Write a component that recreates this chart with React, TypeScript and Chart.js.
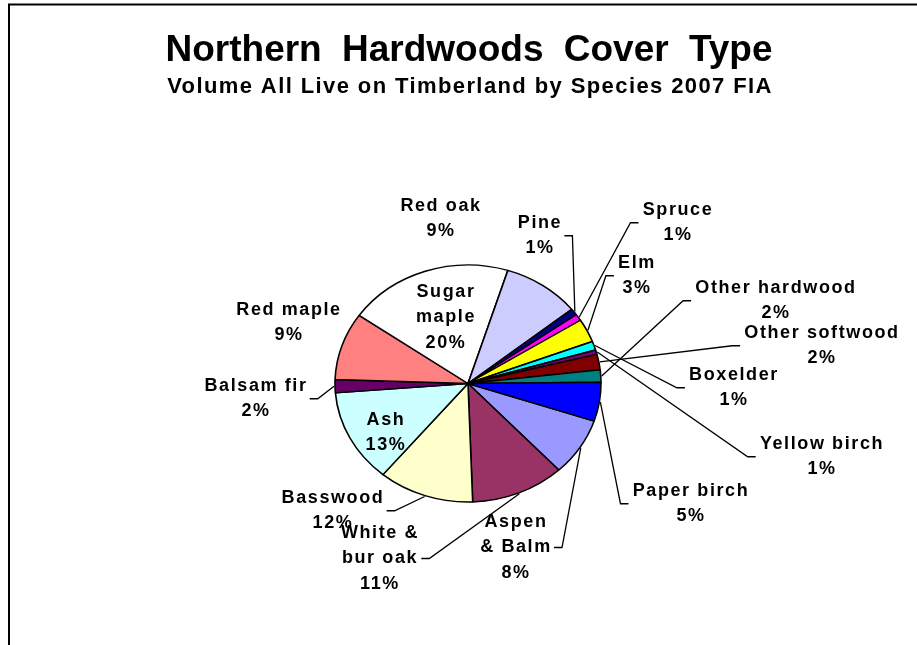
import { useEffect, useRef } from 'react';
import { Chart, registerables } from 'chart.js';

Chart.register(...registerables);

const TITLE = 'Northern Hardwoods Cover Type';
const SUBTITLE = 'Volume All Live on Timberland by Species 2007 FIA';

// Data (share of live volume, %), in the original sheet order
const species = [
  'Aspen & Balm', 'White & bur oak', 'Basswood', 'Ash', 'Balsam fir', 'Red maple',
  'Sugar maple', 'Red oak', 'Pine', 'Spruce', 'Elm', 'Boxelder', 'Yellow birch',
  'Other softwood', 'Other hardwood', 'Paper birch',
];
const volumes = [7.9, 11.4, 11.6, 12.7, 1.8, 9.2, 20.1, 9.4, 0.9, 0.9, 3.2, 1.2, 0.6, 2.1, 1.7, 5.3];
const sliceColors = [
  '#9999FF', '#993366', '#FFFFCC', '#CCFFFF', '#660066', '#FF8080', '#FFFFFF', '#CCCCFF',
  '#000080', '#FF00FF', '#FFFF00', '#00FFFF', '#800080', '#800000', '#008080', '#0000FF',
];

// Label text split into lines (percentage line is appended from the data)
const labelLines = [
  ['Aspen', '& Balm'], ['White &', 'bur oak'], ['Basswood'], ['Ash'], ['Balsam fir'], ['Red maple'],
  ['Sugar', 'maple'], ['Red oak'], ['Pine'], ['Spruce'], ['Elm'], ['Boxelder'], ['Yellow birch'],
  ['Other softwood'], ['Other hardwood'], ['Paper birch'],
];
// Label placement: centre x, first line y
const labelX = [515, 379, 332, 385, 255, 288, 445, 440, 539, 677, 636, 733, 821, 821, 775, 690];
const labelY = [522, 533, 498, 420, 386, 310, 292, 206, 223, 210, 263, 375, 444, 333, 288, 491];
const labelLeader = [true, true, true, false, true, false, false, false, true, true, true, true, true, true, true, true];

const FONT = '"Liberation Sans", Arial, sans-serif';
const Y_SCALE = 0.891;
const LINE_H = 25.5;

const ellipsePlugin = {
  id: 'ellipsePie',
  beforeDatasetsDraw(chart: any) {
    const arc = chart.getDatasetMeta(0).data[0];
    const ctx = chart.ctx;
    ctx.save();
    ctx.translate(arc.x, arc.y);
    ctx.scale(1, Y_SCALE);
    ctx.translate(-arc.x, -arc.y);
  },
  afterDatasetsDraw(chart: any) {
    chart.ctx.restore();
  },
};

const decorPlugin = {
  id: 'decor',
  afterDraw(chart: any) {
    const ctx = chart.ctx as CanvasRenderingContext2D;
    const W = chart.width;
    const H = chart.height;
    // frame
    ctx.save();
    ctx.strokeStyle = '#000';
    ctx.lineWidth = 2;
    ctx.beginPath();
    ctx.moveTo(9, H + 2);
    ctx.lineTo(9, 4.5);
    ctx.lineTo(W + 2, 4.5);
    ctx.stroke();
    ctx.restore();

    // titles
    ctx.save();
    ctx.fillStyle = '#000';
    ctx.textAlign = 'center';
    ctx.textBaseline = 'middle';
    ctx.font = `bold 37px ${FONT}`;
    (ctx as any).wordSpacing = '10px';
    ctx.fillText(TITLE, 469, 51);
    (ctx as any).wordSpacing = '0px';
    ctx.font = `bold 22px ${FONT}`;
    (ctx as any).letterSpacing = '1.4px';
    ctx.fillText(SUBTITLE, 470, 87);
    ctx.restore();

    // data labels
    const meta = chart.getDatasetMeta(0);
    const total = volumes.reduce((a, b) => a + b, 0);
    ctx.save();
    ctx.fillStyle = '#000';
    ctx.strokeStyle = '#000';
    ctx.lineWidth = 1.3;
    ctx.textAlign = 'center';
    ctx.textBaseline = 'middle';
    ctx.font = `bold 18px ${FONT}`;
    (ctx as any).letterSpacing = '1.6px';
    meta.data.forEach((arc: any, i: number) => {
      const pct = Math.round((volumes[i] / total) * 100) + '%';
      const lines = [...labelLines[i], pct];
      const cx = labelX[i];
      const y1 = labelY[i];
      let w = 0;
      lines.forEach((t, j) => {
        w = Math.max(w, ctx.measureText(t).width - 1.6);
        ctx.fillText(t, cx + 1, y1 + j * LINE_H);
      });
      if (labelLeader[i]) {
        const mid = (arc.startAngle + arc.endAngle) / 2;
        const r = arc.outerRadius + 1;
        const px = arc.x + r * Math.cos(mid);
        const py = arc.y + Y_SCALE * r * Math.sin(mid);
        const ty = y1 + ((lines.length - 1) * LINE_H) / 2;
        const dir = px < cx ? -1 : 1;
        const tx0 = cx + dir * (w / 2 + 4);
        const tx1 = tx0 + dir * 8;
        ctx.beginPath();
        ctx.moveTo(tx0, ty);
        ctx.lineTo(tx1, ty);
        ctx.lineTo(px, py);
        ctx.stroke();
      }
    });
    ctx.restore();
  },
};

export default function App() {
  const canvasRef = useRef<HTMLCanvasElement | null>(null);

  useEffect(() => {
    const canvas = canvasRef.current;
    if (!canvas) return;
    const chart = new Chart(canvas, {
      type: 'pie',
      data: {
        labels: species,
        datasets: [
          {
            data: volumes,
            backgroundColor: sliceColors,
            borderColor: '#000',
            borderWidth: 1.6,
          },
        ],
      },
      options: {
        responsive: true,
        maintainAspectRatio: false,
        animation: false,
        rotation: 108.5,
        radius: 133,
        layout: {
          padding: { left: 335, right: 316, top: 250.5, bottom: 128.5 },
        },
        plugins: {
          legend: { display: false },
          tooltip: { enabled: false },
          title: { display: false },
        },
      },
      plugins: [ellipsePlugin, decorPlugin],
    });
    return () => chart.destroy();
  }, []);

  return (
    <div style={{ position: 'absolute', left: 0, top: 0, width: 917, height: 645, background: '#fff' }}>
      <canvas ref={canvasRef} />
    </div>
  );
}
